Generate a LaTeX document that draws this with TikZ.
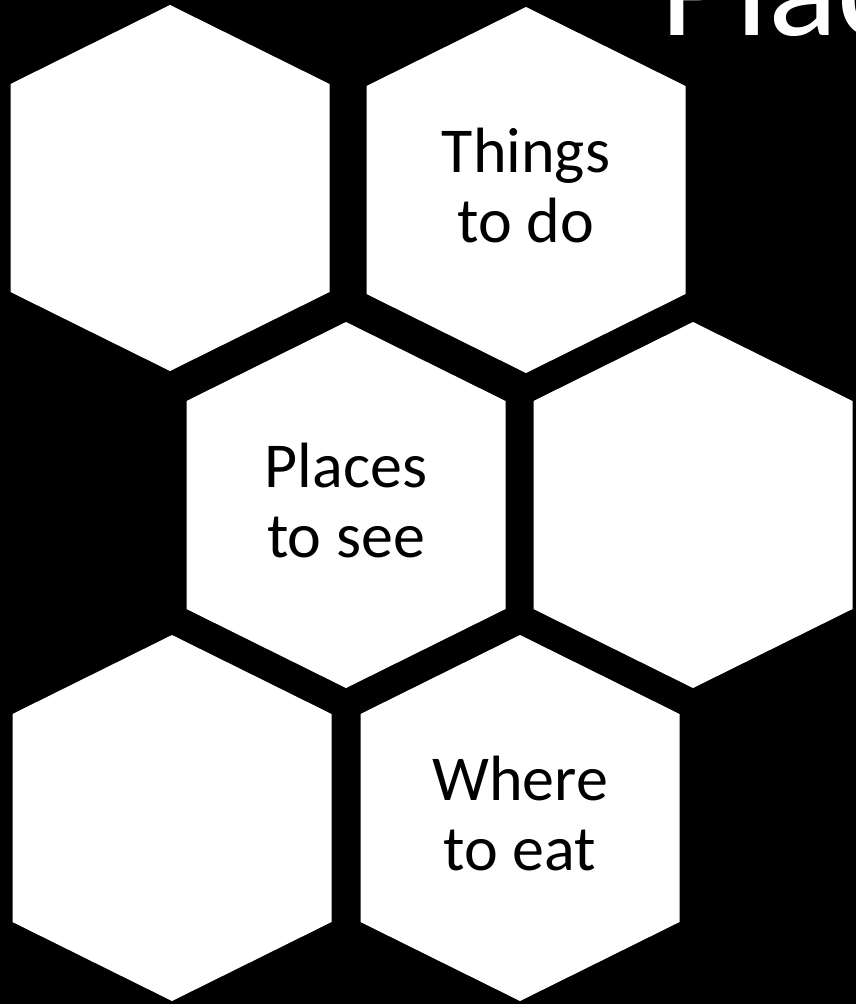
\documentclass[tikz,border=0pt]{standalone}
\usepackage{fontspec}
\setmainfont{Carlito}
\usepackage{tikz}
\usetikzlibrary{positioning}

\begin{document}
\begin{tikzpicture}[
    x=1pt, y=-1pt,
    hexcell/.style={fill=white, draw=none},
    celltext/.style={font=\fontsize{64}{70}\selectfont, align=center, inner sep=0pt, text=black, yshift=4pt}
]
    \useasboundingbox (0,0) rectangle (856,1004);
    \fill[black] (0,0) rectangle (856,1004);
    \clip (0,0) rectangle (856,1004);
    % honeycomb cells
    \foreach \n/\x/\y in {c1/170/188, c2/526/190, c3/346/505, c4/693/505, c5/172/818, c6/520/818}{
        \coordinate (\n) at (\x,\y);
        \fill[hexcell] (\n) ++(0,-183) -- ++(159.5,79) -- ++(0,208) -- ++(-159.5,79) -- ++(-159.5,-79) -- ++(0,-208) -- cycle;
    }
    \node[celltext] (todo)  at (c2) {Things\\to do};
    \node[celltext] (see)   at (c3) {Places\\to see};
    \node[celltext] (eat)   at (c6) {Where\\to eat};
    % title, cut by the frame
    \node[font=\fontsize{145}{150}\selectfont, text=white, anchor=base west, inner sep=0pt] (title) at (660,35) {Plac};
\end{tikzpicture}
\end{document}
